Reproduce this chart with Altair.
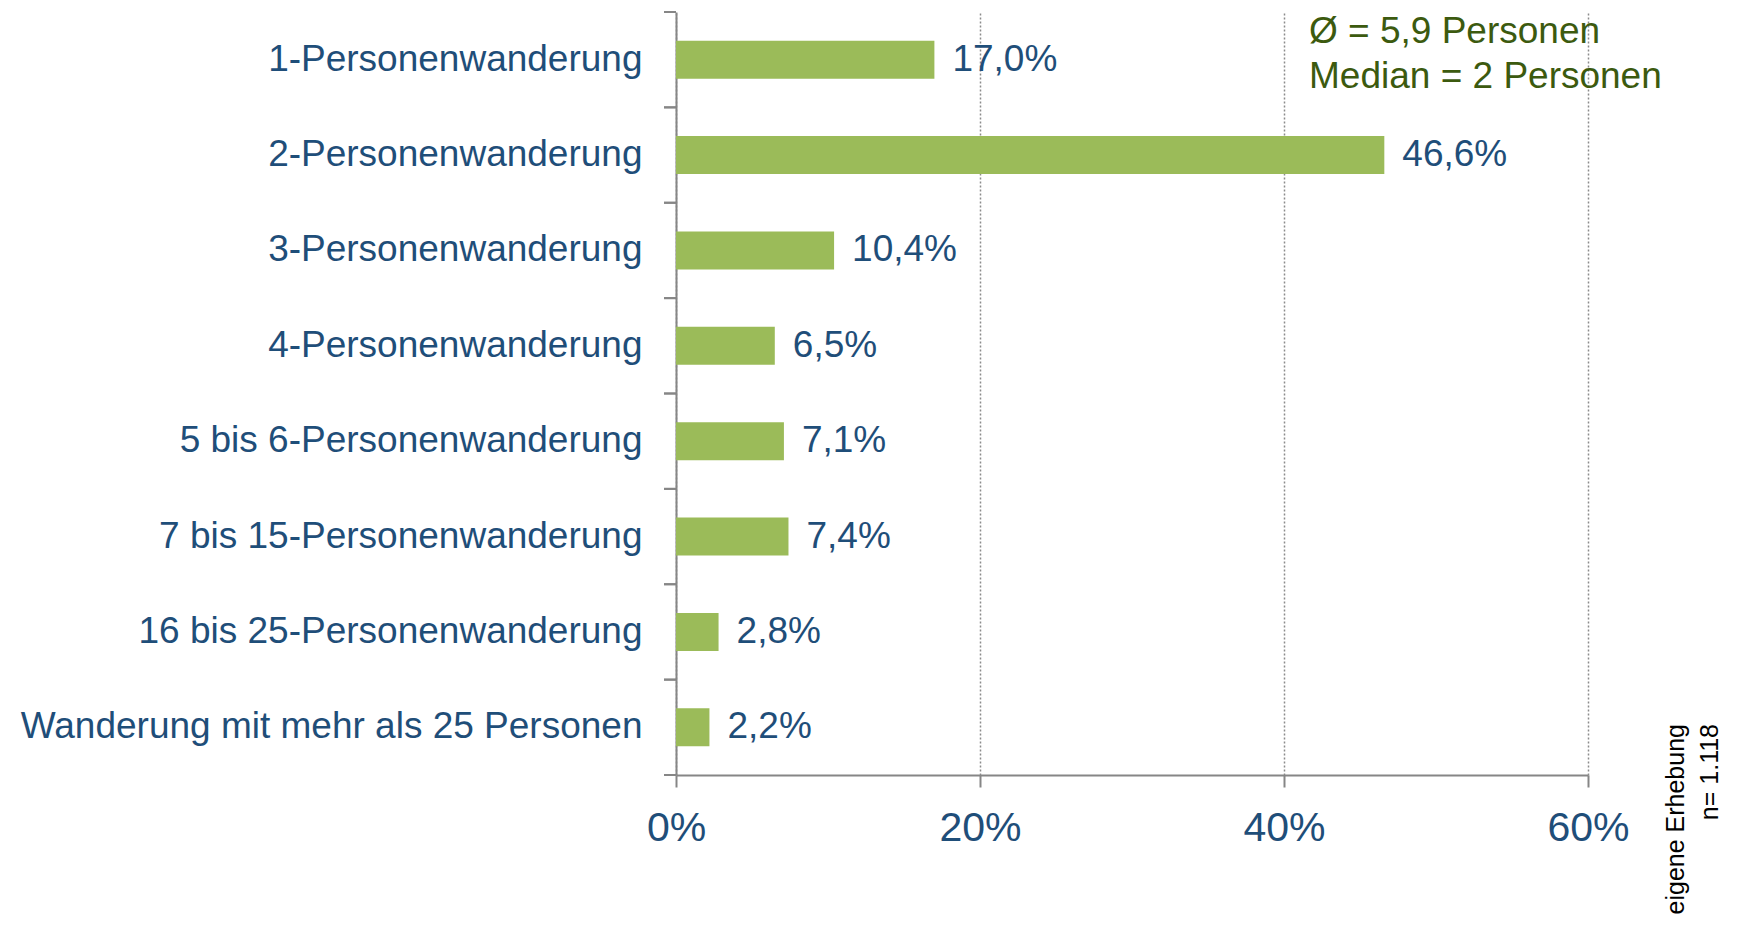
import altair as alt
import pandas as pd

categories = [
    "1-Personenwanderung",
    "2-Personenwanderung",
    "3-Personenwanderung",
    "4-Personenwanderung",
    "5 bis 6-Personenwanderung",
    "7 bis 15-Personenwanderung",
    "16 bis 25-Personenwanderung",
    "Wanderung mit mehr als 25 Personen",
]
values = [17.0, 46.6, 10.4, 6.5, 7.1, 7.4, 2.8, 2.2]
x_ticks = [0, 20, 40, 60]
annotation_lines = ["Ø = 5,9 Personen", "Median = 2 Personen"]
source_lines = ["eigene Erhebung", "n= 1.118"]

FONT = "Liberation Sans"
BLUE = "#1f4e79"
GREEN_BAR = "#9bbb59"
GREEN_TEXT = "#3c5a0f"
GRAY = "#868686"

W, H = 912, 763

df = pd.DataFrame({
    "cat": categories,
    "val": values,
    "label": [f"{v:.1f}".replace(".", ",") + "%" for v in values],
})

yscale = alt.Scale(domain=categories, paddingInner=0, paddingOuter=0)
xscale = alt.Scale(domain=[0, 60], nice=False)

base = alt.Chart(df)

bars = base.mark_bar(size=38, color=GREEN_BAR).encode(
    x=alt.X("val:Q", scale=xscale, axis=alt.Axis(
        values=x_ticks, labelExpr="datum.value + '%'", title=None,
        labelFont=FONT, labelFontSize=41, labelColor=BLUE,
        labelBaseline="alphabetic", labelPadding=53, tickSize=12,
        tickColor=GRAY, tickWidth=2, domainColor=GRAY, domainWidth=2,
        grid=True, gridColor="#8c8c8c", gridDash=[2, 2], gridWidth=1.5,
        labelFlush=False,
    )),
    y=alt.Y("cat:N", scale=yscale, sort=categories, axis=alt.Axis(
        title=None, ticks=False, tickSize=0, labelPadding=34, grid=False,
        labelFont=FONT, labelFontSize=37, labelColor=BLUE,
        domainColor=GRAY, domainWidth=2, labelLimit=1000,
    )),
)

labels = base.mark_text(
    align="left", baseline="middle", dx=18, font=FONT, fontSize=37, color=BLUE
).encode(
    x=alt.X("val:Q", scale=xscale),
    y=alt.Y("cat:N", scale=yscale, sort=categories),
    text="label:N",
)

ticks_top = base.mark_rule(color=GRAY, strokeWidth=2).encode(
    y=alt.Y("cat:N", scale=yscale, sort=categories, bandPosition=0),
    x=alt.value(-12), x2=alt.value(0),
)
ticks_bottom = base.mark_rule(color=GRAY, strokeWidth=2).encode(
    y=alt.Y("cat:N", scale=yscale, sort=categories, bandPosition=1),
    x=alt.value(-12), x2=alt.value(0),
)

ann_df = pd.DataFrame({"t": annotation_lines, "yy": [31, 76]})
annotation = alt.Chart(ann_df).mark_text(
    align="left", baseline="alphabetic", font=FONT, fontSize=37, color=GREEN_TEXT
).encode(
    x=alt.value(633), y=alt.Y("yy:Q", scale=None), text="t:N",
)

src_df = pd.DataFrame({"t": source_lines, "xx": [1008, 1042]})
source = alt.Chart(src_df).mark_text(
    align="right", baseline="alphabetic", angle=270, font=FONT, fontSize=25, color="#000000"
).encode(
    x=alt.X("xx:Q", scale=None), y=alt.value(712), text="t:N",
)

chart = alt.layer(bars, labels, ticks_top, ticks_bottom, annotation, source).properties(
    width=W, height=H,
    background="white",
    autosize=alt.AutoSizeParams(type="none"),
    padding={"left": 668, "top": 4, "right": 140, "bottom": 144},
).configure_view(stroke=None, strokeWidth=0)

chart.save("out.html", embed_options={"renderer": "svg", "actions": False})
